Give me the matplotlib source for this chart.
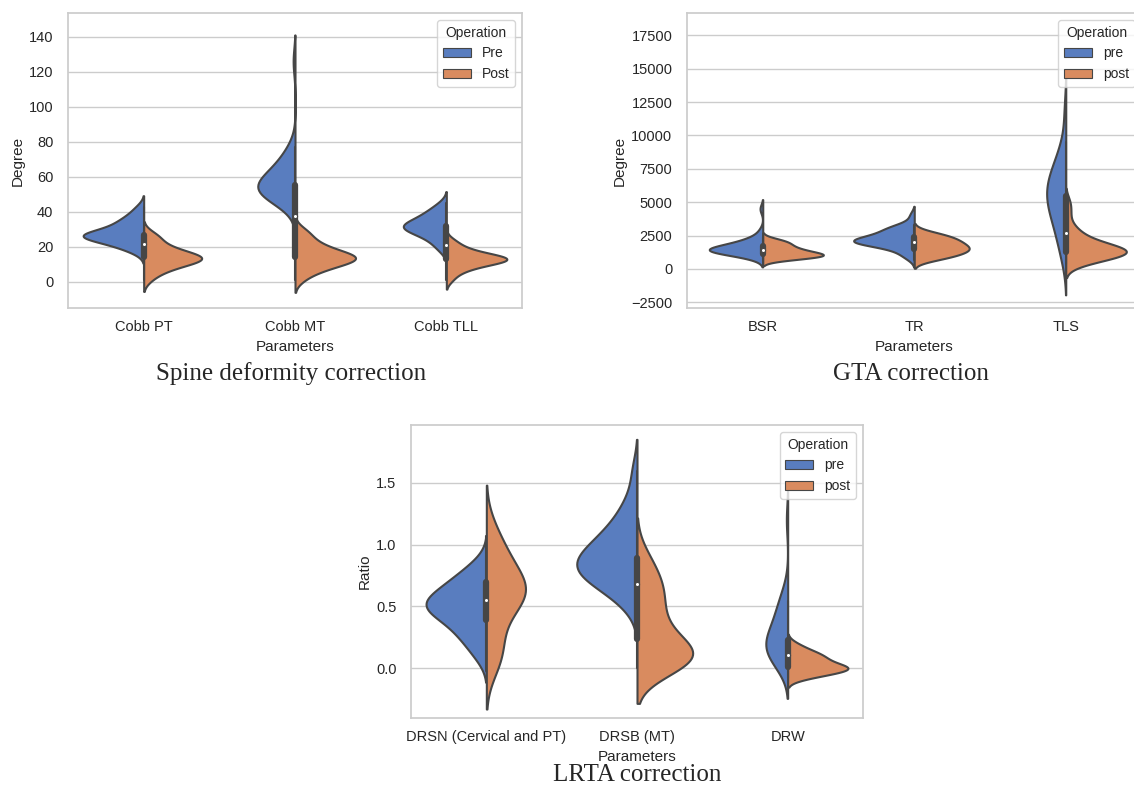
import numpy as np
import seaborn as sns
from matplotlib import pyplot as plt
from matplotlib.patches import Patch

sns.set_theme(style="whitegrid")
plt.rcParams['font.family'] = ['Liberation Sans', 'DejaVu Sans']

# seaborn "muted" colours, desaturated like the old violinplot default
blue = sns.desaturate("#4878d0", 0.75)
orange = sns.desaturate("#ee854a", 0.75)
gray = "#464646"

# Spine deformity correction (Cobb angles, degree)
spine_params = ["Cobb PT", "Cobb MT", "Cobb TLL"]
cobb_pt_pre = [17, 19, 20, 21, 22, 23, 24, 24, 25, 25, 26, 26, 26, 27, 27, 27, 27, 28, 28, 29,
               30, 31, 32, 33, 34, 35, 36, 38, 40, 43]
cobb_pt_post = [1, 4, 6, 7, 8, 9, 10, 11, 11, 12, 12, 13, 13, 13, 14, 14, 14, 15, 15, 16,
                17, 17, 18, 19, 20, 21, 23, 25, 26, 28]
cobb_mt_pre = [45, 47, 48, 49, 50, 50, 51, 51, 52, 52, 53, 53, 54, 54, 55, 56, 57, 58, 59, 60,
               61, 62, 63, 65, 67, 69, 71, 74, 77, 126]
cobb_mt_post = [1, 4, 6, 7, 8, 9, 10, 11, 11, 12, 12, 13, 13, 14, 14, 14, 15, 15, 16, 16,
                17, 18, 19, 20, 21, 22, 24, 26, 28, 30]
cobb_tll_pre = [18, 20, 22, 24, 25, 26, 27, 28, 29, 29, 30, 30, 31, 31, 32, 32, 32, 33, 33, 34,
                35, 35, 36, 37, 38, 39, 40, 41, 43, 45]
cobb_tll_post = [1, 4, 6, 7, 8, 9, 10, 10, 11, 11, 12, 12, 12, 13, 13, 13, 13, 14, 14, 14,
                 15, 15, 16, 16, 17, 18, 19, 20, 22, 24]

# GTA correction
gta_params = ["BSR", "TR", "TLS"]
bsr_pre = [850, 960, 1060, 1150, 1220, 1270, 1310, 1340, 1360, 1380, 1390, 1400, 1410, 1420, 1440,
           1460, 1500, 1540, 1600, 1660, 1720, 1790, 1860, 1940, 2030, 2120, 2220, 2380, 2850, 4500]
bsr_post = [700, 760, 810, 850, 890, 920, 950, 980, 1000, 1020, 1050, 1080, 1100, 1150, 1200,
            1250, 1300, 1350, 1400, 1450, 1500, 1580, 1660, 1740, 1820, 1900, 1980, 2060, 2150, 2250]
tr_pre = [850, 1050, 1300, 1500, 1650, 1750, 1850, 1900, 1950, 2000, 2030, 2060, 2080, 2100, 2120,
          2150, 2200, 2250, 2300, 2400, 2500, 2600, 2700, 2800, 2900, 3000, 3100, 3200, 3300, 4000]
tr_post = [650, 750, 850, 930, 1010, 1080, 1150, 1220, 1290, 1350, 1400, 1450, 1500, 1560, 1620,
           1680, 1740, 1800, 1870, 1940, 2010, 2080, 2150, 2220, 2300, 2380, 2460, 2550, 2650, 2800]
tls_pre = [600, 1300, 1900, 2400, 2800, 3200, 3500, 3800, 4100, 4400, 4600, 4800, 5000, 5200, 5400,
           5600, 5800, 6000, 6200, 6400, 6600, 6800, 7000, 7300, 7600, 7900, 8300, 8800, 9500, 11800]
tls_post = [400, 600, 700, 800, 900, 1000, 1000, 1100, 1100, 1200, 1200, 1300, 1300, 1300, 1400,
            1400, 1500, 1500, 1600, 1700, 1800, 1900, 2000, 2200, 2400, 2600, 2900, 3300, 4200, 5000]

# LRTA correction (ratio)
lrta_params = ["DRSN (Cervical and PT)", "DRSB (MT)", "DRW"]
drsn_pre = [0.08, 0.15, 0.2, 0.25, 0.28, 0.31, 0.34, 0.37, 0.4, 0.42, 0.44, 0.46, 0.48, 0.49, 0.5,
            0.51, 0.52, 0.53, 0.55, 0.57, 0.59, 0.61, 0.63, 0.65, 0.67, 0.7, 0.73, 0.76, 0.8, 0.86]
drsn_post = [-0.02, 0.04, 0.09, 0.14, 0.2, 0.26, 0.33, 0.4, 0.46, 0.5, 0.53, 0.55, 0.57, 0.59, 0.6,
             0.62, 0.64, 0.66, 0.68, 0.7, 0.73, 0.76, 0.79, 0.83, 0.87, 0.91, 0.96, 1.01, 1.07, 1.17]
drsb_pre = [0.49, 0.57, 0.62, 0.65, 0.68, 0.71, 0.73, 0.75, 0.77, 0.79, 0.8, 0.82, 0.83, 0.85, 0.87,
            0.89, 0.91, 0.93, 0.95, 0.97, 1.0, 1.03, 1.06, 1.09, 1.13, 1.17, 1.23, 1.3, 1.39, 1.6]
drsb_post = [0.0, 0.02, 0.03, 0.04, 0.05, 0.06, 0.07, 0.08, 0.09, 0.1, 0.12, 0.14, 0.16, 0.18, 0.21,
             0.24, 0.28, 0.32, 0.36, 0.41, 0.46, 0.51, 0.56, 0.6, 0.64, 0.68, 0.73, 0.78, 0.85, 0.93]
drw_pre = [0.0, 0.02, 0.04, 0.06, 0.08, 0.1, 0.12, 0.13, 0.15, 0.17, 0.18, 0.19, 0.2, 0.21, 0.22,
           0.24, 0.26, 0.28, 0.3, 0.32, 0.35, 0.38, 0.41, 0.44, 0.47, 0.5, 0.54, 0.58, 0.64, 1.2]
drw_post = [-0.08, -0.07, -0.06, -0.05, -0.04, -0.03, -0.02, -0.02, -0.01, -0.01, 0.0, 0.0, 0.0,
            0.01, 0.01, 0.02, 0.03, 0.04, 0.05, 0.06, 0.07, 0.08, 0.09, 0.1, 0.11, 0.12, 0.13, 0.15,
            0.17, 0.2]


def kde(vals):
    # gaussian kde, scott bandwidth, cut=2 (like seaborn)
    v = np.asarray(vals, float)
    bw = v.std(ddof=1) * len(v) ** -0.2
    y = np.linspace(v.min() - 2 * bw, v.max() + 2 * bw, 100)
    d = np.exp(-0.5 * ((y[:, None] - v) / bw) ** 2).sum(axis=1)
    return y, d / (len(v) * bw * np.sqrt(2 * np.pi))


def split_violins(ax, params, pre, post, labels, ylabel):
    for i, (a, b) in enumerate(zip(pre, post)):
        ya, da = kde(a)
        yb, db = kde(b)
        k = 0.4 / max(da.max(), db.max())   # both halves scaled together
        ax.fill_betweenx(ya, i - da * k, i, facecolor=blue, edgecolor=gray, lw=1.5)
        ax.fill_betweenx(yb, i, i + db * k, facecolor=orange, edgecolor=gray, lw=1.5)
        # inner box from both groups
        both = np.concatenate([a, b])
        q25, q50, q75 = np.percentile(both, [25, 50, 75])
        lim = 1.5 * (q75 - q25)
        lo = both[both >= q25 - lim].min()
        hi = both[both <= q75 + lim].max()
        ax.plot([i, i], [lo, hi], color=gray, lw=1.5)
        ax.plot([i, i], [q25, q75], color=gray, lw=4.5)
        ax.scatter(i, q50, s=9, color="white", edgecolor=gray, lw=0.8, zorder=3)
    ax.set_xticks(range(len(params)), params)
    ax.set_xlim(-0.5, len(params) - 0.5)
    ax.xaxis.grid(False)
    ax.tick_params(axis="x", pad=2.7, labelsize=10.5)
    ax.tick_params(axis="y", pad=4.5, labelsize=10.5)
    ax.set_xlabel("Parameters", fontsize=11, labelpad=4.5)
    ax.set_ylabel(ylabel, fontsize=11, labelpad=3)
    hs = [Patch(facecolor=blue, edgecolor=gray, lw=0.8, label=labels[0]),
          Patch(facecolor=orange, edgecolor=gray, lw=0.8, label=labels[1])]
    ax.legend(handles=hs, title="Operation", loc="upper right", fontsize=10, title_fontsize=10)


fig = plt.figure(figsize=(11.34, 7.9), dpi=100)
W, H = 1134, 790

ax1 = fig.add_axes([68 / W, 1 - 308 / H, 454 / W, 295 / H])
split_violins(ax1, spine_params, [cobb_pt_pre, cobb_mt_pre, cobb_tll_pre],
              [cobb_pt_post, cobb_mt_post, cobb_tll_post], ["Pre", "Post"], "Degree")
ax1.set_ylim(-14.9, 153.7)
ax1.set_yticks(range(0, 141, 20))

ax2 = fig.add_axes([687 / W, 1 - 308 / H, 454.5 / W, 295 / H])
split_violins(ax2, gta_params, [bsr_pre, tr_pre, tls_pre],
              [bsr_post, tr_post, tls_post], ["pre", "post"], "Degree")
ax2.set_ylim(-2930, 19180)
ax2.set_yticks(range(-2500, 17501, 2500))

ax3 = fig.add_axes([411 / W, 1 - 718 / H, 452 / W, 293 / H])
split_violins(ax3, lrta_params, [drsn_pre, drsb_pre, drw_pre],
              [drsn_post, drsb_post, drw_post], ["pre", "post"], "Ratio")
ax3.set_ylim(-0.405, 1.97)
ax3.set_yticks([0.0, 0.5, 1.0, 1.5])

serif = dict(family=["Liberation Serif", "DejaVu Serif"], fontsize=18, ha="center", va="baseline")
fig.text(291 / W, 1 - 380 / H, "Spine deformity correction", **serif)
fig.text(911 / W, 1 - 380 / H, "GTA correction", **serif)
fig.text(637 / W, 1 - 781 / H, "LRTA correction", **serif)

fig.savefig("out.png", dpi=100)
